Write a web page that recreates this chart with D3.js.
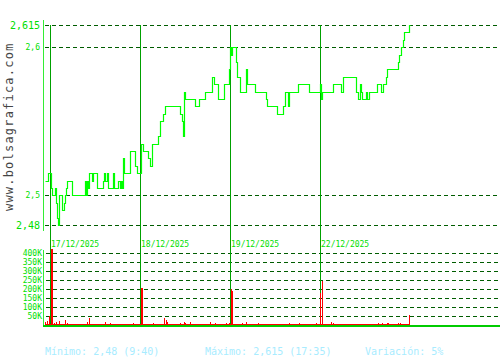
<!DOCTYPE html>
<html>
<head>
<meta charset="utf-8">
<script src="https://cdn.jsdelivr.net/npm/d3@7"></script>
<style>
  body { margin: 0; background: #fff; }
  svg { display: block; }
  text { font-family: 'DejaVu Sans Mono', monospace; }
</style>
</head>
<body>
<div id="chart"></div>
<script>
'use strict';

// one slot = one intraday interval, 90 slots per session
const daySlots = [5, 95, 185, 275];
const dayLabels = ['17/12/2025', '18/12/2025', '19/12/2025', '22/12/2025'];

// price steps: [slot, price]
const priceSlots = [0, 3, 6, 7, 10, 11, 12, 13, 14, 17, 19, 20, 21, 22, 27, 40, 41, 42, 43, 44,
  47, 48, 52, 58, 59, 60, 62, 63, 68, 69, 73, 75, 76, 77, 78, 79, 85, 90, 92, 96,
  98, 103, 105, 107, 113, 115, 118, 120, 135, 137, 138, 139, 140, 150, 154, 160, 167, 169, 173, 179,
  184, 185, 186, 187, 191, 192, 195, 201, 202, 210, 221, 222, 232, 238, 240, 243, 244, 253, 264, 275,
  276, 277, 288, 296, 298, 311, 313, 315, 316, 317, 321, 322, 324, 332, 336, 338, 341, 342, 353, 354,
  356, 358, 359, 364, 365];
const priceValues = [2.51, 2.515, 2.505, 2.5, 2.505, 2.495, 2.485, 2.48, 2.5, 2.49, 2.495, 2.5, 2.505, 2.51, 2.5, 2.51, 2.5, 2.51, 2.505, 2.515,
  2.51, 2.515, 2.505, 2.51, 2.515, 2.51, 2.515, 2.505, 2.515, 2.505, 2.51, 2.505, 2.51, 2.505, 2.525, 2.515, 2.53, 2.52, 2.515, 2.535,
  2.53, 2.525, 2.52, 2.535, 2.54, 2.55, 2.555, 2.56, 2.555, 2.55, 2.54, 2.57, 2.565, 2.56, 2.565, 2.57, 2.58, 2.575, 2.565, 2.575,
  2.585, 2.6, 2.595, 2.6, 2.59, 2.58, 2.57, 2.585, 2.575, 2.57, 2.565, 2.56, 2.555, 2.56, 2.57, 2.56, 2.57, 2.575, 2.57, 2.575,
  2.565, 2.57, 2.575, 2.57, 2.58, 2.57, 2.565, 2.575, 2.57, 2.565, 2.57, 2.565, 2.57, 2.575, 2.57, 2.575, 2.58, 2.585, 2.59, 2.595,
  2.6, 2.605, 2.61, 2.615, 2.615];

// volume: [slot, shares]
const volumeSlots = [0, 2, 4, 6, 7, 9, 11, 14, 20, 22, 42, 44, 60, 65, 88, 96, 97, 108, 119, 121,
  122, 135, 139, 140, 145, 165, 170, 181, 184, 186, 187, 197, 201, 213, 244, 254, 271, 275, 277, 286,
  288, 333, 337, 342, 343, 353, 355, 364];
const volumeValues = [17000, 22000, 50000, 420000, 420000, 11000, 15000, 20000, 27000, 13000, 15000, 38000, 15000, 10000, 10000, 205000, 205000, 13000, 40000, 27000,
  15000, 10000, 15000, 10000, 15000, 15000, 10000, 10000, 10000, 200000, 190000, 10000, 15000, 10000, 10000, 10000, 10000, 180000, 245000, 15000,
  10000, 10000, 10000, 13000, 13000, 13000, 13000, 55000];

const priceTicks = [2.48, 2.5, 2.6, 2.615];
const priceTickBig = [true, false, false, true];
const volumeTicks = [50000, 100000, 150000, 200000, 250000, 300000, 350000, 400000];

const footerTexts = ['Mínimo: 2,48 (9:40)', 'Máximo: 2,615 (17:35)', 'Variación: 5%'];

const W = 500, H = 360;
const AXIS_X = 43.5;
const GRID = '#005c00', DAY = '#00a000', TXT = '#00e000';

window.onload = function () {
  const svg = d3.select('#chart').append('svg')
    .attr('width', W)
    .attr('height', H);

  const x = d3.scaleLinear().domain([0, 365]).range([45, 410]);
  const y = d3.scaleLinear().domain([2.48, 2.615]).range([225, 25]);
  const yV = d3.scaleLinear().domain([0, 400000]).range([325, 253]);

  const es = d3.formatLocale({ decimal: ',', thousands: '.', grouping: [3], currency: ['', '€'] });
  const fmtPrice = es.format('~g');

  drawWatermark(svg);

  // price grid
  svg.append('g').selectAll('line')
      .data(priceTicks)
    .enter().append('line')
      .attr('x1', 45).attr('x2', W)
      .attr('y1', d => Math.round(y(d)) + 0.5)
      .attr('y2', d => Math.round(y(d)) + 0.5)
      .attr('stroke', GRID)
      .attr('stroke-dasharray', '4,3');

  svg.append('g').selectAll('text')
      .data(priceTicks)
    .enter().append('text')
      .attr('x', 40)
      .attr('y', d => y(d))
      .attr('dy', '0.36em')
      .attr('text-anchor', 'end')
      .attr('font-size', (d, i) => priceTickBig[i] ? 10 : 8)
      .attr('fill', TXT)
      .text(d => fmtPrice(d));

  // volume grid
  svg.append('g').selectAll('line')
      .data(volumeTicks)
    .enter().append('line')
      .attr('x1', 46).attr('x2', W)
      .attr('y1', d => Math.round(yV(d)) + 0.5)
      .attr('y2', d => Math.round(yV(d)) + 0.5)
      .attr('stroke', GRID)
      .attr('stroke-dasharray', '4,3');

  svg.append('g').selectAll('text')
      .data(volumeTicks)
    .enter().append('text')
      .attr('x', 42)
      .attr('y', d => yV(d))
      .attr('dy', '0.36em')
      .attr('text-anchor', 'end')
      .attr('font-size', 8)
      .attr('fill', TXT)
      .text(d => (d / 1000) + 'K');

  // day separators
  svg.append('g').selectAll('line')
      .data(daySlots)
    .enter().append('line')
      .attr('x1', d => Math.round(x(d)) + 0.5)
      .attr('x2', d => Math.round(x(d)) + 0.5)
      .attr('y1', 25).attr('y2', 326)
      .attr('stroke', DAY);

  svg.append('g').selectAll('text')
      .data(daySlots)
    .enter().append('text')
      .attr('x', d => x(d) + 1)
      .attr('y', 246.5)
      .attr('font-size', 8)
      .attr('fill', TXT)
      .text((d, i) => dayLabels[i]);

  // axis lines
  svg.append('line')
    .attr('x1', AXIS_X).attr('x2', AXIS_X)
    .attr('y1', 20).attr('y2', 231)
    .attr('stroke', '#33ee33');
  svg.append('line')
    .attr('x1', AXIS_X).attr('x2', AXIS_X)
    .attr('y1', 250).attr('y2', 326)
    .attr('stroke', '#33ee33');

  drawVolume(svg, x, yV);

  svg.append('line')
    .attr('x1', 43).attr('x2', W)
    .attr('y1', 326).attr('y2', 326)
    .attr('stroke', '#00cc00')
    .attr('stroke-width', 2);

  drawPrice(svg, x, y);

  // footer
  svg.append('g').selectAll('text')
      .data(footerTexts)
    .enter().append('text')
      .attr('x', (d, i) => 45 + i * 160)
      .attr('y', 355)
      .attr('font-size', 10)
      .attr('fill', '#a8ecff')
      .text(d => d);
};

function drawWatermark(svg) {
  svg.append('text')
    .attr('transform', 'translate(13,211) rotate(-90)')
    .attr('font-size', 12)
    .attr('letter-spacing', 1.2)
    .attr('fill', '#444')
    .text('www.bolsagrafica.com');
}

function drawPrice(svg, x, y) {
  const pts = priceSlots.map((s, i) => [s, priceValues[i]]);
  const line = d3.line()
    .x(d => Math.round(x(d[0])) + 0.5)
    .y(d => Math.round(y(d[1])) + 0.5)
    .curve(d3.curveStepAfter);

  svg.append('path')
    .datum(pts)
    .attr('d', line)
    .attr('fill', 'none')
    .attr('stroke', '#00ff00')
    .attr('stroke-width', 1.2);
}

function drawVolume(svg, x, yV) {
  // thin floor of small trades across the whole range
  svg.append('line')
    .attr('x1', x(0)).attr('x2', x(365))
    .attr('y1', 324.5).attr('y2', 324.5)
    .attr('stroke', '#ff0000');

  svg.append('g').selectAll('rect')
      .data(volumeSlots.map((s, i) => [s, volumeValues[i]]))
    .enter().append('rect')
      .attr('x', d => Math.round(x(d[0])))
      .attr('width', 1)
      .attr('y', d => Math.round(yV(d[1])))
      .attr('height', d => 325 - Math.round(yV(d[1])))
      .attr('fill', '#ff0000');
}
</script>
</body>
</html>
